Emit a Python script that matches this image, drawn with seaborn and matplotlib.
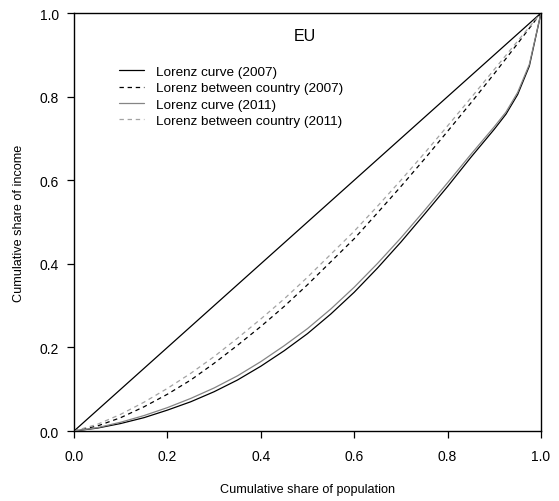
import matplotlib
matplotlib.use("Agg")
import matplotlib.pyplot as plt
import seaborn as sns

# cumulative share of population
pop = [0, 0.05, 0.1, 0.15, 0.2, 0.25, 0.3, 0.35, 0.4, 0.45, 0.5,
       0.55, 0.6, 0.65, 0.7, 0.75, 0.8, 0.85, 0.9, 0.95, 1.0]
pop_top = [0, 0.05, 0.1, 0.15, 0.2, 0.25, 0.3, 0.35, 0.4, 0.45, 0.5,
           0.55, 0.6, 0.65, 0.7, 0.75, 0.8, 0.85, 0.9, 0.925, 0.95, 0.975, 1.0]

# cumulative share of income
lorenz_2007 = [0, 0.007, 0.018, 0.032, 0.05, 0.07, 0.094, 0.122, 0.155, 0.192, 0.233,
               0.28, 0.332, 0.39, 0.452, 0.518, 0.585, 0.655, 0.722, 0.758, 0.805, 0.873, 1.0]
lorenz_2011 = [0, 0.008, 0.021, 0.037, 0.056, 0.078, 0.103, 0.132, 0.166, 0.204, 0.245,
               0.292, 0.344, 0.401, 0.462, 0.527, 0.594, 0.662, 0.728, 0.763, 0.81, 0.877, 1.0]
between_2007 = [0, 0.012, 0.032, 0.058, 0.088, 0.122, 0.162, 0.205, 0.25, 0.298, 0.35,
                0.405, 0.46, 0.522, 0.585, 0.65, 0.717, 0.785, 0.855, 0.927, 1.0]
between_2011 = [0, 0.016, 0.04, 0.069, 0.102, 0.138, 0.178, 0.222, 0.268, 0.316, 0.368,
                0.423, 0.478, 0.538, 0.6, 0.664, 0.73, 0.797, 0.865, 0.933, 1.0]
equality = [0, 1.0]

labels = ["Lorenz curve (2007)", "Lorenz between country (2007)",
          "Lorenz curve (2011)", "Lorenz between country (2011)"]
ticks = [0, 0.2, 0.4, 0.6, 0.8, 1.0]
tick_labels = ["0.0", "0.2", "0.4", "0.6", "0.8", "1.0"]

sns.set_theme(style="ticks")
plt.rcParams["font.family"] = ["Liberation Sans", "DejaVu Sans"]
plt.rcParams["text.color"] = "black"
plt.rcParams["axes.labelcolor"] = "black"

fig = plt.figure(figsize=(5.59, 5.02), dpi=100)
ax = fig.add_axes([0.1324, 0.1394, 0.8354, 0.8327])

xs = [pop_top, pop, pop_top, pop]
series = [lorenz_2007, between_2007, lorenz_2011, between_2011]
colors = ["black", "black", "#858585", "#a3a3a3"]
dashes = ["-", (0, (3.5, 3)), "-", (0, (3.5, 3))]

sns.lineplot(x=equality, y=equality, color="black", linewidth=0.9, ax=ax)
for x, y, c, d, lab in zip(xs, series, colors, dashes, labels):
    sns.lineplot(x=x, y=y, color=c, linestyle=d, linewidth=0.9, label=lab, ax=ax)

ax.set_xlim(0, 1)
ax.set_ylim(0, 1)
ax.set_xticks(ticks)
ax.set_yticks(ticks)
ax.set_xticklabels(tick_labels)
ax.set_yticklabels(tick_labels)
ax.tick_params(axis="both", direction="out", length=5, width=0.9, labelsize=10,
               color="black", labelcolor="black")
ax.tick_params(axis="x", pad=8)
ax.tick_params(axis="y", pad=6)
for s in ax.spines.values():
    s.set_color("black")
    s.set_linewidth(1.0)

ax.set_xlabel("Cumulative share of population", fontsize=9.1, labelpad=14)
ax.set_ylabel("Cumulative share of income", fontsize=9.1, labelpad=10)
ax.text(0.495, 0.947, "EU", fontsize=11.5, ha="center", va="center", transform=ax.transAxes)

ax.legend(loc="upper left", bbox_to_anchor=(0.07, 0.903), frameon=False,
          fontsize=9.7, handlelength=1.86, handletextpad=0.9, labelspacing=0.28,
          labelcolor="black")

fig.savefig("out.png", dpi=100)
